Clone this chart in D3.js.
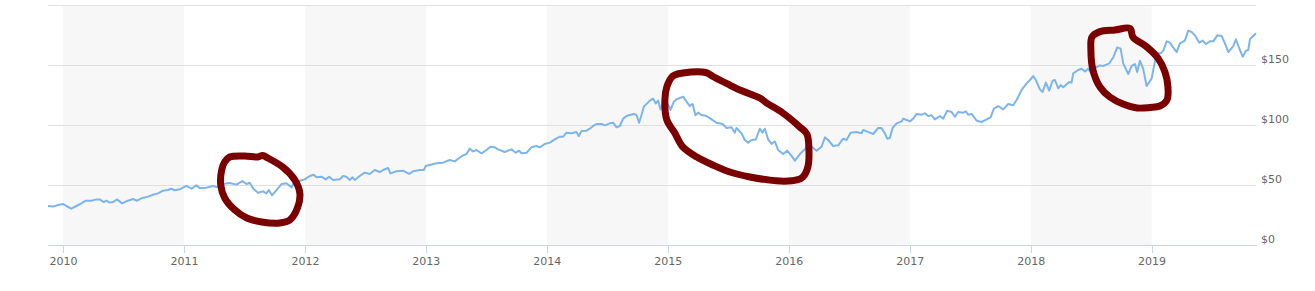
<!DOCTYPE html>
<html>
<head>
<meta charset="utf-8">
<script src="https://cdn.jsdelivr.net/npm/d3@7"></script>
<style>
  html, body { margin: 0; padding: 0; background: #ffffff; }
  svg { display: block; }
  text { font-family: "DejaVu Sans", sans-serif; font-size: 11px; fill: #666666; }
</style>
</head>
<body>
<svg id="chart" width="1315" height="291"></svg>
<script>
// ---- data (decimal year, price in $) ----
const dates = [
2009.876,2009.917,2009.959,2010.000,2010.028,2010.069,2010.111,2010.152,2010.188,2010.235,
2010.276,2010.303,2010.337,2010.359,2010.386,2010.413,2010.447,2010.488,2010.524,2010.579,
2010.612,2010.657,2010.703,2010.744,2010.786,2010.827,2010.868,2010.896,2010.924,2010.965,
2011.020,2011.062,2011.103,2011.130,2011.186,2011.240,2011.282,2011.323,2011.378,2011.434,
2011.483,2011.517,2011.544,2011.577,2011.612,2011.654,2011.682,2011.701,2011.728,2011.765,
2011.806,2011.847,2011.869,2011.891,2011.908,2011.957,2011.999,2012.040,2012.073,2012.095,
2012.137,2012.172,2012.200,2012.233,2012.288,2012.315,2012.343,2012.371,2012.393,2012.412,
2012.453,2012.495,2012.536,2012.577,2012.619,2012.646,2012.687,2012.707,2012.757,2012.811,
2012.861,2012.894,2012.950,2012.983,2012.999,2013.032,2013.088,2013.142,2013.197,2013.239,
2013.266,2013.308,2013.336,2013.363,2013.390,2013.418,2013.460,2013.501,2013.534,2013.570,
2013.597,2013.652,2013.708,2013.743,2013.771,2013.790,2013.832,2013.873,2013.915,2013.942,
2013.983,2014.025,2014.066,2014.107,2014.135,2014.163,2014.204,2014.245,2014.264,2014.287,
2014.328,2014.355,2014.383,2014.411,2014.452,2014.479,2014.521,2014.548,2014.576,2014.603,
2014.631,2014.659,2014.686,2014.719,2014.741,2014.763,2014.783,2014.802,2014.852,2014.879,
2014.901,2014.920,2014.940,2014.957,2014.976,2014.994,2015.023,2015.050,2015.072,2015.100,
2015.127,2015.149,2015.182,2015.205,2015.229,2015.251,2015.279,2015.320,2015.362,2015.403,
2015.453,2015.486,2015.527,2015.554,2015.568,2015.610,2015.637,2015.664,2015.693,2015.728,
2015.761,2015.783,2015.802,2015.830,2015.858,2015.885,2015.912,2015.954,2015.987,2016.023,
2016.051,2016.092,2016.133,2016.169,2016.202,2016.230,2016.271,2016.299,2016.326,2016.367,
2016.409,2016.450,2016.478,2016.511,2016.561,2016.602,2016.615,2016.671,2016.698,2016.739,
2016.767,2016.795,2016.814,2016.836,2016.858,2016.892,2016.933,2016.946,2016.974,2017.001,
2017.029,2017.057,2017.098,2017.126,2017.153,2017.181,2017.208,2017.250,2017.277,2017.310,
2017.346,2017.374,2017.401,2017.442,2017.465,2017.483,2017.512,2017.553,2017.594,2017.636,
2017.669,2017.696,2017.732,2017.773,2017.814,2017.856,2017.884,2017.925,2017.967,2017.994,
2018.021,2018.043,2018.076,2018.099,2018.126,2018.153,2018.181,2018.201,2018.228,2018.248,
2018.269,2018.319,2018.338,2018.352,2018.393,2018.421,2018.449,2018.476,2018.504,2018.540,
2018.573,2018.600,2018.650,2018.683,2018.716,2018.744,2018.765,2018.807,2018.835,2018.862,
2018.881,2018.903,2018.930,2018.959,2019.000,2019.027,2019.041,2019.074,2019.096,2019.124,
2019.151,2019.178,2019.207,2019.234,2019.275,2019.303,2019.331,2019.358,2019.394,2019.422,
2019.449,2019.482,2019.510,2019.543,2019.579,2019.606,2019.634,2019.675,2019.697,2019.730,
2019.753,2019.780,2019.799,2019.813,2019.840,2019.863
];
const prices = [
32.5,32.0,33.3,34.2,32.5,30.3,32.5,34.7,36.9,36.9,
38.0,38.0,35.8,36.9,35.3,35.8,38.0,34.7,36.4,38.3,
36.9,39.2,40.3,41.9,43.0,45.3,45.8,46.9,45.6,46.4,
49.2,46.9,49.7,47.5,47.8,49.2,48.0,50.8,51.7,50.3,
53.3,50.8,51.9,46.4,43.6,44.7,43.0,45.8,41.4,45.8,
50.8,51.4,49.7,48.0,51.9,53.6,54.7,57.5,58.6,56.4,
56.9,54.7,56.9,54.2,54.7,57.5,56.9,54.2,56.4,54.2,
57.5,60.3,59.2,62.5,60.8,62.5,64.2,59.7,61.4,61.9,
59.2,61.4,62.5,62.5,65.8,66.7,68.1,68.6,70.8,69.7,
71.9,74.7,75.8,80.3,78.0,79.2,76.4,79.2,81.9,81.4,
79.7,77.5,79.7,76.9,78.6,76.4,76.9,81.4,82.5,81.4,
84.2,85.3,88.0,90.3,90.3,93.6,93.1,94.2,90.8,95.0,
95.3,96.9,99.2,100.8,100.8,99.7,101.4,101.9,98.1,99.2,
105.3,107.5,108.3,109.2,108.3,101.9,108.3,115.3,120.3,121.9,
118.0,120.3,113.0,118.0,120.8,118.6,112.5,119.4,121.4,122.5,
123.6,120.3,115.8,117.5,108.1,110.3,108.3,107.5,104.7,101.9,
100.8,97.5,98.1,93.6,97.5,93.0,87.5,85.3,87.5,88.0,
96.9,93.6,96.9,88.0,84.2,86.4,79.2,75.8,78.6,74.2,
70.3,75.8,79.7,84.2,80.8,78.6,81.9,89.7,87.5,82.5,
83.1,88.6,87.5,93.6,94.2,93.1,95.8,93.6,92.5,97.5,
97.5,93.0,88.6,89.2,97.5,101.4,103.0,105.3,104.2,103.0,
105.3,109.2,108.6,109.7,107.5,108.1,104.7,107.5,105.3,111.9,
110.8,106.9,110.8,110.3,111.4,108.6,109.2,103.6,102.5,104.7,
106.4,113.6,115.8,113.0,117.5,116.4,120.8,129.2,134.7,137.5,
140.8,137.5,129.7,127.5,135.3,128.6,136.9,137.5,130.6,133.3,
131.4,135.8,135.3,143.0,145.8,146.9,144.7,146.9,142.5,148.0,
149.7,149.2,151.4,156.4,164.7,163.6,151.4,142.5,149.2,150.8,
144.2,153.6,147.0,132.5,138.6,152.8,160.3,159.7,161.9,169.7,
168.6,164.7,160.8,168.0,170.3,178.6,177.5,174.7,168.6,170.3,
167.5,169.7,169.7,174.7,174.2,168.0,160.8,165.8,171.4,162.5,
156.9,161.9,162.5,171.4,174.2,176.4
];
const yearTicks = [2010, 2011, 2012, 2013, 2014, 2015, 2016, 2017, 2018, 2019];
const priceTicks = [0, 50, 100, 150, 200];
const bandStartYears = [2010, 2012, 2014, 2016, 2018];

// hand-drawn annotation loops (decimal year, $)
const loop1Years  = [2011.378,2011.502,2011.610,2011.651,2011.693,2011.817,2011.916,2011.958,2011.941,2011.875,2011.792,2011.643,2011.519,2011.420,2011.337,2011.304,2011.312,2011.337];
const loop1Prices = [73.3,74.2,73.3,74.6,72.5,65.0,54.2,43.3,31.7,20.8,18.3,19.2,22.5,29.2,39.2,50.0,62.5,69.2];
const loop2Years  = [2015.042,2015.124,2015.315,2015.381,2015.513,2015.596,2015.761,2015.819,2015.951,2016.092,2016.150,2016.166,2016.158,2016.117,2016.067,2015.927,2015.679,2015.513,2015.372,2015.240,2015.124,2015.058,2014.992,2014.976,2014.992];
const loop2Prices = [140.8,143.3,143.75,140.0,133.3,129.2,122.5,118.3,110.0,98.3,92.5,81.7,65.0,56.7,54.2,53.3,56.7,60.8,66.7,73.3,81.7,93.3,104.2,120.8,131.7];
const loop3Years  = [2018.573,2018.697,2018.821,2018.846,2018.961,2019.052,2019.110,2019.135,2019.127,2019.069,2018.986,2018.879,2018.763,2018.655,2018.573,2018.515,2018.498,2018.507];
const loop3Prices = [177.8,179.2,180.4,173.3,165.0,155.8,144.2,131.7,120.8,115.8,114.6,114.2,117.5,123.3,131.7,145.8,162.5,173.3];

// ---- layout ----
const W = 1315, H = 291;
const plot = { left: 48, right: 1256, top: 5, bottom: 245 };

const svg = d3.select("#chart");

const x = d3.scaleLinear()
  .domain([dates[0], dates[dates.length - 1]])
  .range([plot.left, plot.right]);
const y = d3.scaleLinear()
  .domain([0, 200])
  .range([plot.bottom, plot.top]);

// alternating year bands
svg.append("g").selectAll("rect")
  .data(bandStartYears)
  .join("rect")
  .attr("x", d => Math.max(plot.left, x(d)))
  .attr("y", plot.top)
  .attr("width", d => Math.min(plot.right, x(d + 1)) - Math.max(plot.left, x(d)))
  .attr("height", plot.bottom - plot.top)
  .attr("fill", "#f7f7f7");

// horizontal gridlines (right axis)
const yAxis = d3.axisRight(y)
  .tickValues(priceTicks)
  .tickSize(-(plot.right - plot.left))
  .tickFormat(d => d === 200 ? "" : "$" + d);
const gy = svg.append("g")
  .attr("transform", `translate(${plot.right},0)`)
  .call(yAxis);
gy.select(".domain").remove();
gy.selectAll(".tick line")
  .attr("stroke", "#e0e0e0")
  .attr("stroke-width", 1)
  .attr("shape-rendering", "crispEdges");
gy.selectAll(".tick text")
  .attr("x", 5)
  .attr("dy", "-0.2em")
  .attr("text-anchor", "start")
  .style("font-family", "DejaVu Sans, sans-serif")
  .style("font-size", "11px")
  .attr("fill", "#666666");

// bottom axis
const xAxis = d3.axisBottom(x)
  .tickValues(yearTicks)
  .tickSize(8)
  .tickSizeOuter(0)
  .tickPadding(4)
  .tickFormat(d3.format("d"));
const gx = svg.append("g")
  .attr("transform", `translate(0,${plot.bottom})`)
  .call(xAxis);
gx.select(".domain")
  .attr("stroke", "#ccd6eb")
  .attr("shape-rendering", "crispEdges");
gx.selectAll(".tick line")
  .attr("stroke", "#ccd6eb")
  .attr("shape-rendering", "crispEdges");
gx.selectAll(".tick text")
  .style("font-family", "DejaVu Sans, sans-serif")
  .style("font-size", "11px")
  .attr("fill", "#666666");

// price line
const series = dates.map((d, i) => ({ t: d, v: prices[i] }));
svg.append("path")
  .datum(series)
  .attr("fill", "none")
  .attr("stroke", "#7cb5ec")
  .attr("stroke-width", 2)
  .attr("stroke-linejoin", "round")
  .attr("d", d3.line().x(d => x(d.t)).y(d => y(d.v)));

// annotation loops
const loops = [
  loop1Years.map((t, i) => [t, loop1Prices[i]]),
  loop2Years.map((t, i) => [t, loop2Prices[i]]),
  loop3Years.map((t, i) => [t, loop3Prices[i]])
];
const loopLine = d3.line()
  .x(d => x(d[0])).y(d => y(d[1]))
  .curve(d3.curveCatmullRomClosed.alpha(0.5));
svg.append("g").selectAll("path")
  .data(loops)
  .join("path")
  .attr("fill", "none")
  .attr("stroke", "#7a0000")
  .attr("stroke-width", 7)
  .attr("stroke-linecap", "round")
  .attr("stroke-linejoin", "round")
  .attr("d", loopLine);
</script>
</body>
</html>
